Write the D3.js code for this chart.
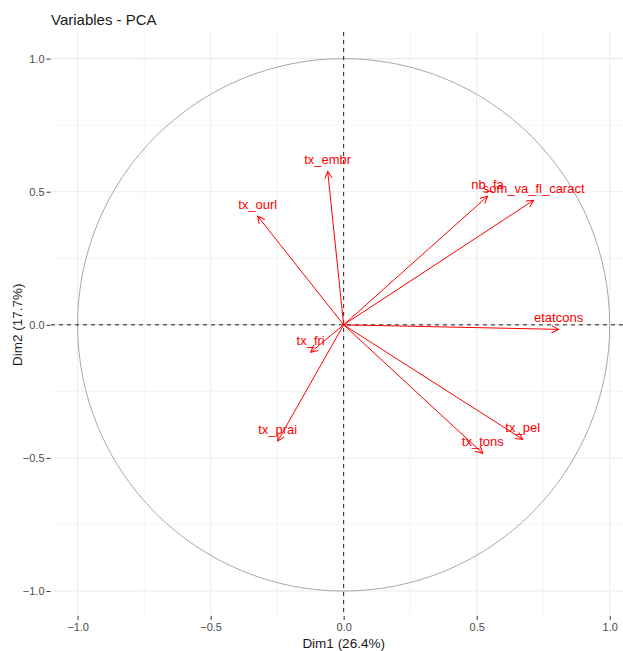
<!DOCTYPE html>
<html>
<head>
<meta charset="utf-8">
<script src="https://cdn.jsdelivr.net/npm/d3@7"></script>
<style>
	body { margin: 0; background: #fff; }
	svg { font-family: "Liberation Sans", Arial, sans-serif; }
</style>
</head>
<body>
<div id="chart"></div>
<script>
// variable names and their coordinates on the first two dimensions
const variables = ['etatcons', 'nb_fa', 'som_va_fl_caract', 'tx_embr', 'tx_ourl', 'tx_fri', 'tx_prai', 'tx_pel', 'tx_tons'];
const dim1 = [0.808, 0.541, 0.714, -0.060, -0.323, -0.124, -0.248, 0.673, 0.523];
const dim2 = [-0.017, 0.483, 0.468, 0.577, 0.408, -0.103, -0.437, -0.430, -0.483];

const majorTicks = [-1, -0.5, 0, 0.5, 1];
const minorTicks = [-0.75, -0.25, 0.25, 0.75];
const xDomain = [-1.10, 1.05];
const yDomain = [-1.09, 1.10];

const title = 'Variables - PCA';
const xTitle = 'Dim1 (26.4%)';
const yTitle = 'Dim2 (17.7%)';

function buildPCA(parentID){

	const width = 623, height = 651;
	const panel = {left: 51, right: 623, top: 32, bottom: 615};

	const svg = d3.select(parentID).append('svg')
		.attr('width', width)
		.attr('height', height);

	//scales
	const xScale = d3.scaleLinear().domain(xDomain).range([panel.left, panel.right]);
	const yScale = d3.scaleLinear().domain(yDomain).range([panel.bottom, panel.top]);

	//arrow head
	svg.append('defs').append('marker')
		.attr('id', 'head')
		.attr('viewBox', '-9 -5 10 10')
		.attr('markerUnits', 'userSpaceOnUse')
		.attr('markerWidth', 10)
		.attr('markerHeight', 10)
		.attr('refX', 0)
		.attr('refY', 0)
		.attr('orient', 'auto')
		.append('path')
		.attr('d', 'M-7,-3.6L0,0L-7,3.6')
		.attr('fill', 'none')
		.attr('stroke', 'red')
		.attr('stroke-width', 1);

	//grid
	const grid = svg.append('g').attr('class', 'grid');
	grid.selectAll('.vminor').data(minorTicks).enter().append('line')
		.attr('x1', d => xScale(d)).attr('x2', d => xScale(d))
		.attr('y1', panel.top).attr('y2', panel.bottom)
		.attr('stroke', '#f2f2f2').attr('stroke-width', 0.8);
	grid.selectAll('.hminor').data(minorTicks).enter().append('line')
		.attr('y1', d => yScale(d)).attr('y2', d => yScale(d))
		.attr('x1', panel.left).attr('x2', panel.right)
		.attr('stroke', '#f2f2f2').attr('stroke-width', 0.8);
	grid.selectAll('.vmajor').data(majorTicks).enter().append('line')
		.attr('x1', d => xScale(d)).attr('x2', d => xScale(d))
		.attr('y1', panel.top).attr('y2', panel.bottom)
		.attr('stroke', '#ebebeb').attr('stroke-width', 1.1);
	grid.selectAll('.hmajor').data(majorTicks).enter().append('line')
		.attr('y1', d => yScale(d)).attr('y2', d => yScale(d))
		.attr('x1', panel.left).attr('x2', panel.right)
		.attr('stroke', '#ebebeb').attr('stroke-width', 1.1);

	//correlation circle
	svg.append('ellipse')
		.attr('cx', xScale(0)).attr('cy', yScale(0))
		.attr('rx', xScale(1) - xScale(0))
		.attr('ry', yScale(0) - yScale(1))
		.attr('fill', 'none')
		.attr('stroke', '#a8a8a8')
		.attr('stroke-width', 1);

	//zero lines
	svg.append('line')
		.attr('x1', panel.left).attr('x2', panel.right)
		.attr('y1', yScale(0)).attr('y2', yScale(0))
		.attr('stroke', '#222').attr('stroke-width', 1)
		.attr('stroke-dasharray', '4,4');
	svg.append('line')
		.attr('x1', xScale(0)).attr('x2', xScale(0))
		.attr('y1', panel.top).attr('y2', panel.bottom)
		.attr('stroke', '#222').attr('stroke-width', 1)
		.attr('stroke-dasharray', '4,4');

	//axes
	const fmt = d3.format('.1f');
	const xAxis = svg.append('g')
		.attr('transform', `translate(0,${panel.bottom + 1})`)
		.call(d3.axisBottom(xScale).tickValues(majorTicks).tickFormat(fmt).tickSizeOuter(0).tickSize(4).tickPadding(3));
	const yAxis = svg.append('g')
		.attr('transform', `translate(${panel.left - 0.5},0)`)
		.call(d3.axisLeft(yScale).tickValues(majorTicks).tickFormat(fmt).tickSizeOuter(0).tickSize(4).tickPadding(2));
	[xAxis, yAxis].forEach(a => {
		a.select('.domain').remove();
		a.selectAll('.tick line').attr('stroke', '#333');
		a.selectAll('.tick text').attr('fill', '#4d4d4d').attr('font-size', '11px');
	});

	//arrows
	const data = variables.map((v, i) => ({name: v, x: dim1[i], y: dim2[i]}));
	svg.selectAll('.arrow').data(data).enter().append('line')
		.attr('class', 'arrow')
		.attr('x1', xScale(0)).attr('y1', yScale(0))
		.attr('x2', d => xScale(d.x)).attr('y2', d => yScale(d.y))
		.attr('stroke', 'red')
		.attr('stroke-width', 1)
		.attr('marker-end', 'url(#head)');

	svg.selectAll('.label').data(data).enter().append('text')
		.attr('class', 'label')
		.attr('x', d => xScale(d.x))
		.attr('y', d => yScale(d.y) - 7)
		.attr('text-anchor', 'middle')
		.attr('fill', 'red')
		.attr('font-size', '13px')
		.text(d => d.name);

	//titles
	svg.append('text')
		.attr('x', panel.left).attr('y', 25)
		.attr('font-size', '15px').attr('fill', '#1a1a1a')
		.text(title);
	svg.append('text')
		.attr('x', xScale(0)).attr('y', 648)
		.attr('text-anchor', 'middle')
		.attr('font-size', '13.5px').attr('fill', '#1a1a1a')
		.text(xTitle);
	svg.append('text')
		.attr('transform', `translate(22,${yScale(0)}) rotate(-90)`)
		.attr('text-anchor', 'middle')
		.attr('font-size', '13.5px').attr('fill', '#1a1a1a')
		.text(yTitle);
}

buildPCA('#chart');
</script>
</body>
</html>
